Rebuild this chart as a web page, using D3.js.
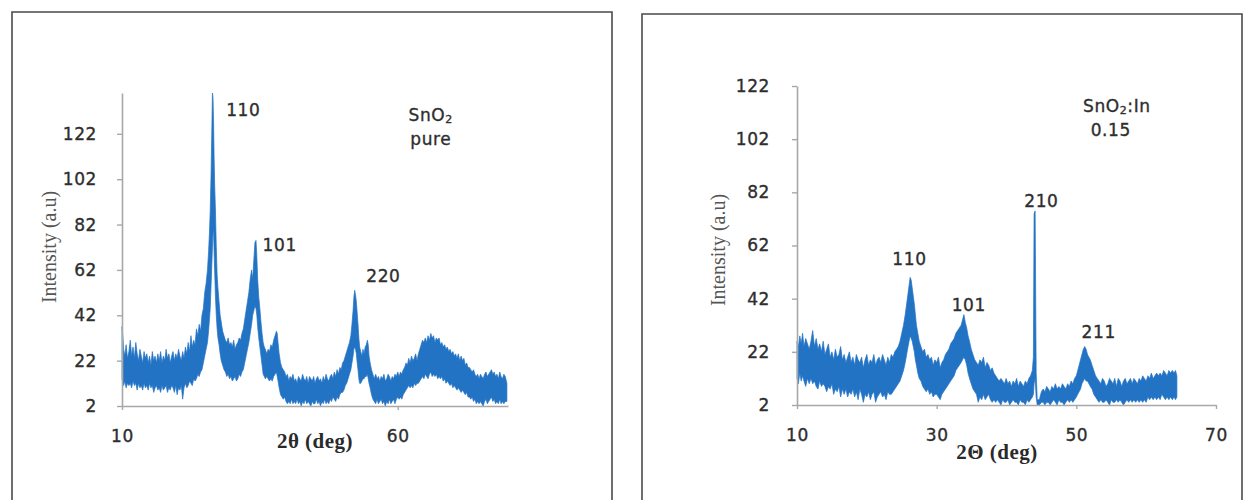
<!DOCTYPE html>
<html><head><meta charset="utf-8">
<script src="https://cdn.jsdelivr.net/npm/d3@7"></script>
<style>body{margin:0;background:#fff}svg{display:block}</style>
</head><body>
<svg id="c" width="1248" height="500"></svg>
<script>
// [2theta (deg), upper envelope, lower envelope]
const pureTrace = [
[10.0,37,14],[10.15,33,12],[10.3,27,11],[10.5,24,13],[10.75,29,10],[11.0,23,12],[11.25,26,11],[11.5,31,12],[11.75,24,10],[12.0,28,13],
[12.25,23,11],[12.5,30,12],[12.75,25,9],[13.0,22,12],[13.25,27,10],[13.5,24,11],[13.75,21,9],[14.0,26,12],[14.25,23,10],[14.5,25,11],
[14.75,21,9],[15.0,24,12],[15.25,20,10],[15.5,26,11],[15.75,22,8],[16.0,24,10],[16.25,21,11],[16.5,25,9],[16.75,22,10],[17.0,26,8],
[17.25,21,11],[17.5,24,9],[17.75,22,10],[18.0,27,11],[18.25,23,8],[18.5,25,10],[18.75,21,9],[19.0,24,11],[19.25,26,10],[19.5,22,8],
[19.75,25,11],[20.0,23,7],[20.25,27,10],[20.5,24,9],[20.75,22,11],[21.0,26,5],[21.25,23,10],[21.5,28,12],[21.75,25,10],[22.0,30,11],
[22.25,26,13],[22.5,33,12],[22.75,28,11],[23.0,31,14],[23.25,29,13],[23.5,36,14],[23.75,33,16],[24.0,38,15],[24.25,35,17],[24.5,42,18],
[24.75,45,21],[25.0,52,24],[25.25,56,27],[25.5,62,30],[25.7,70,35],[25.85,78,40],[26.0,88,45],[26.15,104,55],[26.3,125,65],[26.4,140,72],
[26.5,138,78],[26.6,128,80],[26.7,112,70],[26.8,100,62],[26.95,88,50],[27.1,72,42],[27.25,60,36],[27.4,54,32],[27.6,48,29],[27.8,42,25],
[28.0,39,22],[28.25,35,20],[28.5,33,18],[28.75,31,17],[29.0,30,15],[29.25,32,16],[29.5,29,14],[29.75,30,15],[30.0,28,13],[30.25,31,14],
[30.5,27,15],[30.75,29,13],[31.0,30,14],[31.25,32,16],[31.5,31,15],[31.75,34,17],[32.0,36,18],[32.25,40,21],[32.5,44,24],[32.75,48,27],
[33.0,52,30],[33.25,58,34],[33.5,62,38],[33.7,58,42],[33.9,66,44],[34.1,74,46],[34.3,75,45],[34.45,68,42],[34.6,58,37],[34.8,50,32],
[35.0,45,28],[35.2,39,24],[35.4,34,20],[35.6,30,16],[35.8,28,15],[36.0,27,14],[36.25,25,15],[36.5,27,14],[36.75,26,13],[37.0,29,14],
[37.25,28,13],[37.5,31,15],[37.75,33,16],[38.0,35,17],[38.15,34,15],[38.3,30,13],[38.5,25,10],[38.75,21,7],[39.0,19,6],[39.25,18,5],
[39.5,17,6],[39.75,15,4],[40.0,16,3],[40.25,13,4],[40.5,15,3],[40.75,14,5],[41.0,16,3],[41.25,13,4],[41.5,14,3],[41.75,12,5],
[42.0,15,3],[42.25,14,4],[42.5,13,2],[42.75,16,4],[43.0,14,3],[43.25,13,5],[43.5,15,3],[43.75,12,4],[44.0,15,3],[44.25,14,2],
[44.5,13,4],[44.75,15,3],[45.0,12,3],[45.25,14,5],[45.5,15,3],[45.75,13,4],[46.0,14,2],[46.25,12,4],[46.5,15,3],[46.75,13,5],
[47.0,16,3],[47.25,14,4],[47.5,13,3],[47.75,15,5],[48.0,16,4],[48.25,14,6],[48.5,17,5],[48.75,15,4],[49.0,18,6],[49.25,16,5],
[49.5,19,7],[49.75,18,8],[50.0,21,8],[50.25,22,9],[50.5,24,11],[50.75,26,12],[51.0,28,14],[51.25,30,16],[51.5,33,18],[51.7,38,21],
[51.9,44,24],[52.05,50,27],[52.2,53,28],[52.35,51,27],[52.5,48,25],[52.65,43,21],[52.8,38,18],[52.95,32,14],[53.1,28,12],[53.3,26,12],
[53.5,24,13],[53.7,27,14],[53.9,25,14],[54.1,28,15],[54.3,29,15],[54.5,31,16],[54.65,29,14],[54.8,24,12],[55.0,21,10],[55.25,18,7],
[55.5,16,5],[55.75,14,4],[56.0,16,3],[56.25,14,5],[56.5,15,3],[56.75,13,4],[57.0,15,5],[57.25,14,3],[57.5,16,4],[57.75,13,2],
[58.0,14,4],[58.25,16,3],[58.5,15,5],[58.75,13,3],[59.0,15,4],[59.25,14,5],[59.5,16,3],[59.75,15,5],[60.0,17,6],[60.25,15,5],
[60.5,17,6],[60.75,16,5],[61.0,18,7],[61.25,19,8],[61.5,21,9],[61.75,20,10],[62.0,23,11],[62.25,21,10],[62.5,24,11],[62.75,22,10],
[63.0,23,12],[63.25,25,11],[63.5,22,12],[63.75,25,12],[64.0,27,13],[64.25,29,14],[64.5,31,15],[64.75,30,14],[65.0,32,16],[65.25,30,15],
[65.5,33,14],[65.75,31,16],[66.0,34,17],[66.25,32,15],[66.5,33,16],[66.75,30,15],[67.0,32,16],[67.25,31,14],[67.5,32,15],[67.75,29,14],
[68.0,30,15],[68.25,28,13],[68.5,29,14],[68.75,27,12],[69.0,28,13],[69.25,26,12],[69.5,27,11],[69.75,25,12],[70.0,26,10],[70.25,24,11],
[70.5,25,10],[70.75,23,9],[71.0,25,10],[71.25,22,9],[71.5,24,8],[71.75,22,9],[72.0,23,8],[72.25,20,7],[72.5,21,8],[72.75,19,6],
[73.0,19,6],[73.25,18,5],[73.5,17,6],[73.75,18,4],[74.0,16,5],[74.25,15,3],[74.5,16,4],[74.75,14,3],[75.0,16,4],[75.25,15,3],
[75.5,14,2],[75.75,16,4],[76.0,17,5],[76.25,15,3],[76.5,16,4],[76.75,17,5],[77.0,18,6],[77.25,16,4],[77.5,17,5],[77.75,15,3],
[78.0,16,4],[78.25,14,3],[78.5,17,5],[78.75,15,3],[79.0,14,4],[79.25,16,3],[79.5,15,4],[79.8,12,4]
];
const dopedTrace = [
[10.0,26,12],[10.2,24,10],[10.4,28,14],[10.6,25,11],[10.8,29,13],[11.0,24,11],[11.25,27,9],[11.5,25,12],[11.75,23,10],[12.0,26,12],
[12.25,30,10],[12.5,24,11],[12.75,27,9],[13.0,23,8],[13.25,25,11],[13.5,22,9],[13.75,26,10],[14.0,21,9],[14.25,23,7],[14.5,25,9],
[14.75,20,8],[15.0,22,10],[15.25,19,6],[15.5,23,8],[15.75,20,7],[16.0,21,9],[16.25,24,5],[16.5,19,8],[16.75,21,6],[17.0,18,8],
[17.25,20,5],[17.5,22,7],[17.75,18,6],[18.0,20,8],[18.25,17,5],[18.5,21,7],[18.75,19,4],[19.0,18,8],[19.25,20,6],[19.5,16,3],
[19.75,19,6],[20.0,21,5],[20.25,17,7],[20.5,19,4],[20.75,18,6],[21.0,21,7],[21.25,17,3],[21.5,19,5],[21.75,20,6],[22.0,18,7],
[22.25,21,5],[22.5,19,6],[22.75,17,4],[23.0,20,7],[23.25,18,6],[23.5,21,6],[23.75,20,7],[24.0,22,8],[24.25,23,9],[24.5,24,10],
[24.75,26,11],[25.0,29,13],[25.25,32,15],[25.5,36,18],[25.7,40,21],[25.9,44,24],[26.05,47,26],[26.2,50,28],[26.35,49,27],[26.5,46,26],
[26.65,43,24],[26.8,40,22],[26.95,36,19],[27.1,32,17],[27.3,29,14],[27.5,26,12],[27.75,24,11],[28.0,22,9],[28.25,23,8],[28.5,20,7],
[28.75,21,8],[29.0,19,6],[29.25,20,7],[29.5,17,5],[29.75,19,6],[30.0,18,6],[30.25,20,5],[30.5,16,4],[30.75,18,6],[31.0,19,7],
[31.25,21,8],[31.5,22,9],[31.75,23,10],[32.0,25,11],[32.25,26,12],[32.5,27,13],[32.75,29,15],[33.0,30,16],[33.25,31,17],[33.5,32,18],
[33.7,34,19],[33.9,36,20],[34.1,33,19],[34.3,31,17],[34.5,28,14],[34.7,26,12],[34.95,23,10],[35.2,21,8],[35.45,19,7],[35.7,18,6],
[35.95,17,3],[36.2,19,5],[36.45,18,4],[36.7,20,6],[36.95,16,4],[37.2,18,5],[37.45,17,6],[37.7,15,4],[37.95,16,3],[38.2,14,4],
[38.45,13,3],[38.7,12,4],[38.95,11,3],[39.2,12,2],[39.45,11,4],[39.7,10,3],[39.95,12,3],[40.2,10,4],[40.45,11,2],[40.7,9,3],
[40.95,11,4],[41.2,10,3],[41.45,12,3],[41.7,9,2],[41.95,11,4],[42.2,10,3],[42.45,9,3],[42.7,11,2],[42.95,10,4],[43.2,12,3],
[43.45,13,4],[43.7,15,5],[43.85,20,6],[43.95,74,10],[44.1,75,12],[44.25,14,5],[44.4,4,2],[44.7,4,2],[45.0,7,3],[45.25,8,3],
[45.5,7,2],[45.75,9,3],[46.0,8,3],[46.25,7,2],[46.5,9,3],[46.75,8,4],[47.0,10,3],[47.25,8,2],[47.5,9,4],[47.75,8,3],
[48.0,10,3],[48.25,9,2],[48.5,8,3],[48.75,10,4],[49.0,9,3],[49.25,11,4],[49.5,10,3],[49.75,12,4],[50.0,13,5],[50.2,15,6],
[50.4,17,7],[50.6,19,8],[50.8,21,10],[51.0,23,11],[51.2,24,12],[51.4,23,11],[51.6,21,11],[51.8,20,10],[52.0,19,9],[52.25,17,8],
[52.5,15,6],[52.75,13,5],[53.0,12,4],[53.25,11,3],[53.5,10,4],[53.75,12,3],[54.0,11,3],[54.25,9,4],[54.5,10,3],[54.75,12,2],
[55.0,11,4],[55.25,10,3],[55.5,12,3],[55.75,9,4],[56.0,12,3],[56.25,11,4],[56.5,9,3],[56.75,11,2],[57.0,12,3],[57.25,10,4],
[57.5,11,3],[57.75,12,4],[58.0,10,3],[58.25,12,4],[58.5,11,3],[58.75,10,4],[59.0,12,3],[59.25,11,4],[59.5,13,3],[59.75,12,4],
[60.0,11,3],[60.25,13,5],[60.5,12,4],[60.75,14,5],[61.0,12,4],[61.25,13,5],[61.5,14,4],[61.75,13,5],[62.0,14,4],[62.25,13,6],
[62.5,15,5],[62.75,14,4],[63.0,13,5],[63.25,15,4],[63.5,14,5],[63.75,15,4],[64.0,14,5],[64.2,15,4],[64.4,13,5]
];
const pureXTicks = [10, 60];
const pureYTicks = [2, 22, 42, 62, 82, 102, 122];
const dopedXTicks = [10, 30, 50, 70];
const dopedYTicks = [2, 22, 42, 62, 82, 102, 122];
const purePeakLabels = [["110", 32.0, 132.5], ["101", 38.6, 73], ["220", 57.4, 59.5]];
const dopedPeakLabels = [["110", 26.1, 56.9], ["101", 34.6, 39.8], ["210", 45.0, 78.7], ["211", 53.2, 29.3]];
const pureSample = {name: "SnO", sub: "2", rest: "", line2: "pure", at: [66.0, 130.1]};
const dopedSample = {name: "SnO", sub: "2", rest: ":In", line2: "0.15", at: [55.8, 114.5]};

const svg = d3.select("#c");
const BLUE = "#2373c4";
const INK = "#2e2e2e";
const LABEL_FONT = "'DejaVu Sans', sans-serif";
const SERIF = "'Liberation Serif', 'DejaVu Serif', serif";

function styleLabel(sel, size) {
  return sel.attr("font-family", LABEL_FONT).attr("font-size", size).attr("fill", INK)
    .attr("stroke", INK).attr("stroke-width", 0.35).attr("letter-spacing", "0.6px");
}

function panel(cfg) {
  const g = svg.append("g");
  g.append("path")
    .attr("d", `M${cfg.frame[0]},520 V${cfg.frame[1]} H${cfg.frame[2]} V520`)
    .attr("fill", "none").attr("stroke", "#4a4a4a").attr("stroke-width", 1.6);

  const x = d3.scaleLinear().domain(cfg.xDomain).range(cfg.xRange);
  const y = d3.scaleLinear().domain(cfg.yDomain).range(cfg.yRange);

  const area = d3.area().x(d => x(d[0])).y0(d => y(d[2])).y1(d => y(d[1]));
  g.append("path").datum(cfg.trace).attr("d", area)
    .attr("fill", BLUE).attr("stroke", BLUE).attr("stroke-width", 0.7);

  const yAxis = d3.axisLeft(y).tickValues(cfg.yTicks).tickSizeInner(5).tickSizeOuter(0).tickPadding(cfg.yPad).tickFormat(d3.format("d"));
  const ya = g.append("g").attr("transform", `translate(${cfg.xRange[0]},0)`).call(yAxis);
  const xAxis = d3.axisBottom(x).tickValues(cfg.xTicks).tickSizeInner(4).tickSizeOuter(0).tickPadding(cfg.xPad).tickFormat(d3.format("d"));
  const xa = g.append("g").attr("transform", `translate(0,${cfg.yRange[0]})`).call(xAxis);
  [ya, xa].forEach(a => {
    a.select(".domain").attr("stroke", "#a8a8a8").attr("stroke-width", 1.6);
    a.selectAll(".tick line").attr("stroke", "#a8a8a8").attr("stroke-width", 1.4);
    styleLabel(a.selectAll(".tick text"), 17);
  });

  g.append("text")
    .attr("transform", `translate(${cfg.yTitle[0]},${cfg.yTitle[1]}) rotate(-90)`)
    .attr("text-anchor", "middle").attr("dominant-baseline", "central")
    .attr("font-family", SERIF).attr("font-size", 20).attr("fill", "#555")
    .text("Intensity (a.u)");
  g.append("text")
    .attr("x", cfg.xTitle[0]).attr("y", cfg.xTitle[1])
    .attr("text-anchor", "middle").attr("dominant-baseline", "central")
    .attr("font-family", SERIF).attr("font-size", 21).attr("font-weight", "bold").attr("fill", "#2a2a2a")
    .attr("letter-spacing", "0.5px")
    .text(cfg.xTitleText);

  styleLabel(g.selectAll("text.peak").data(cfg.peaks).join("text").attr("class", "peak")
    .attr("x", d => x(d[1])).attr("y", d => y(d[2]))
    .attr("text-anchor", "middle").attr("dominant-baseline", "central"), 17)
    .text(d => d[0]);

  const s = cfg.sample;
  const t = styleLabel(g.append("text").attr("x", x(s.at[0])).attr("y", y(s.at[1]))
    .attr("text-anchor", "middle").attr("dominant-baseline", "central"), 17);
  t.append("tspan").text(s.name);
  t.append("tspan").attr("font-size", 11).attr("dy", 4).text(s.sub);
  t.append("tspan").attr("dy", -4).text(s.rest);
  styleLabel(g.append("text").attr("x", x(s.at[0]) + (cfg.line2dx || 0)).attr("y", y(s.at[1]) + cfg.line2dy)
    .attr("text-anchor", "middle").attr("dominant-baseline", "central"), 17)
    .text(s.line2);
}

panel({
  frame: [12, 12, 612],
  xDomain: [10, 80], xRange: [122, 508],
  yDomain: [2, 140], yRange: [406, 93],
  trace: pureTrace, xTicks: pureXTicks, yTicks: pureYTicks,
  yPad: 20, xPad: 20,
  yTitle: [49, 247], xTitle: [315, 441], xTitleText: "2\u03b8 (deg)",
  peaks: purePeakLabels, sample: pureSample, line2dy: 24
});
panel({
  frame: [642, 14, 1242],
  xDomain: [10, 70], xRange: [797, 1216],
  yDomain: [2, 122], yRange: [405, 86],
  trace: dopedTrace, xTicks: dopedXTicks, yTicks: dopedYTicks,
  yPad: 22, xPad: 20,
  yTitle: [718, 250], xTitle: [997, 452], xTitleText: "2\u0398 (deg)",
  peaks: dopedPeakLabels, sample: dopedSample, line2dy: 24, line2dx: -6
});
</script>
</body></html>
